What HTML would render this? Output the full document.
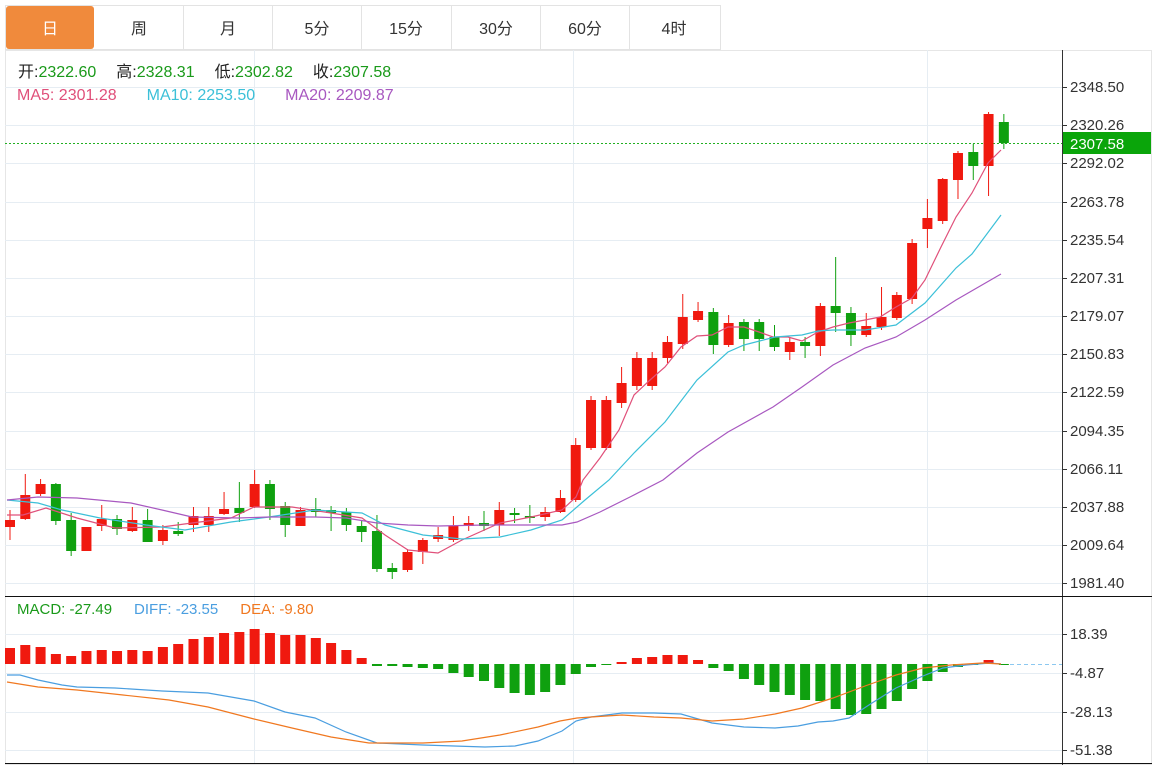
<!DOCTYPE html>
<html><head><meta charset="utf-8"><style>
body{margin:0;background:#fff;width:1173px;height:766px;overflow:hidden;font-family:"Liberation Sans","Noto Sans CJK SC",sans-serif;}
svg text{font-family:"Liberation Sans","Noto Sans CJK SC",sans-serif;}
</style></head><body>
<svg id="s" width="1173" height="766" xmlns="http://www.w3.org/2000/svg">
<rect x="0" y="0" width="1173" height="766" fill="#fff"/>
<rect x="5.5" y="5.5" width="715" height="44" fill="#fff" stroke="#e3e3e3"/>
<rect x="6" y="6" width="88" height="43" rx="3" fill="#f08a3c"/>
<g stroke="#e3e3e3"><line x1="183.5" y1="5" x2="183.5" y2="50"/><line x1="272.5" y1="5" x2="272.5" y2="50"/><line x1="361.5" y1="5" x2="361.5" y2="50"/><line x1="451.5" y1="5" x2="451.5" y2="50"/><line x1="540.5" y1="5" x2="540.5" y2="50"/><line x1="629.5" y1="5" x2="629.5" y2="50"/></g>
<g font-size="16" text-anchor="middle" fill="#333">
<text x="50" y="34" fill="#fff">日</text><text x="139" y="34">周</text><text x="228" y="34">月</text><text x="317" y="34">5分</text><text x="406" y="34">15分</text><text x="496" y="34">30分</text><text x="585" y="34">60分</text><text x="674" y="34">4时</text>
</g>
<rect x="5.5" y="50.5" width="1146" height="714" fill="none" stroke="#e6e6e6"/>
<g id="grid" stroke="#e6edf3" stroke-width="1"></g>
<line x1="1062.5" y1="50" x2="1062.5" y2="765" stroke="#333"/>
<line x1="5" y1="596.5" x2="1152" y2="596.5" stroke="#111"/>
<line x1="5" y1="763.5" x2="1152" y2="763.5" stroke="#111"/>
<g id="ax" font-size="15" fill="#333"></g>
<line x1="5" y1="143.5" x2="1062" y2="143.5" stroke="#22b022" stroke-dasharray="2,2"/>
<rect x="1063" y="132" width="88" height="22" fill="#0aa50a"/>
<text x="1070" y="149" font-size="15" fill="#fff">2307.58</text>
<line x1="1003" y1="664.5" x2="1062" y2="664.5" stroke="#8cc8f0" stroke-dasharray="4,3"/>
<g id="c"></g>
<g id="m"></g>
<g id="l" fill="none" stroke-width="1.2"></g>
<text x="18" y="77" font-size="16"><tspan fill="#222">开:</tspan><tspan fill="#1a9a1a">2322.60</tspan><tspan fill="#222" dx="20">高:</tspan><tspan fill="#1a9a1a">2328.31</tspan><tspan fill="#222" dx="20">低:</tspan><tspan fill="#1a9a1a">2302.82</tspan><tspan fill="#222" dx="20">收:</tspan><tspan fill="#1a9a1a">2307.58</tspan></text>
<text x="17" y="100" font-size="16"><tspan fill="#e0507a">MA5: 2301.28</tspan><tspan fill="#3cc0d8" dx="30">MA10: 2253.50</tspan><tspan fill="#a858c0" dx="30">MA20: 2209.87</tspan></text>
<text x="17" y="614" font-size="15"><tspan fill="#1a9a1a">MACD: -27.49</tspan><tspan fill="#4a9ee0" dx="22">DIFF: -23.55</tspan><tspan fill="#f07820" dx="22">DEA: -9.80</tspan></text>
</svg>
<script>
var NS="http://www.w3.org/2000/svg";
function el(p,t,a){var e=document.createElementNS(NS,t);for(var k in a)e.setAttribute(k,a[k]);document.getElementById(p).appendChild(e);return e;}
var py=[[87,"2348.50"],[125,"2320.26"],[163,"2292.02"],[202,"2263.78"],[240,"2235.54"],[278,"2207.31"],[316,"2179.07"],[354,"2150.83"],[392,"2122.59"],[431,"2094.35"],[469,"2066.11"],[507,"2037.88"],[545,"2009.64"],[583,"1981.40"],[634,"18.39"],[673,"-4.87"],[712,"-28.13"],[750,"-51.38"]];
py.forEach(function(p){el("grid","line",{x1:5,x2:1062,y1:p[0]+.5,y2:p[0]+.5});el("ax","line",{x1:1062,x2:1067,y1:p[0]+.5,y2:p[0]+.5,stroke:"#333"});var t=el("ax","text",{x:1070,y:p[0]+5});t.textContent=p[1];});
[254,573,927].forEach(function(x){el("grid","line",{x1:x+.5,x2:x+.5,y1:50,y2:763});});
var C=[[520,527,510,540,'r'],[495,519,474,520,'r'],[484,494,479,496,'r'],[484,521,483,525,'g'],[520,551,513,556,'g'],[527,551,527,551,'r'],[519,526,505,531,'r'],[519,529,515,535,'g'],[520,531,507,532,'r'],[520,542,509,542,'g'],[530,541,525,545,'r'],[531,534,522,536,'g'],[516,525,507,532,'r'],[516,525,507,532,'r'],[509,514,492,515,'r'],[508,513,482,522,'g'],[484,507,470,508,'r'],[484,509,480,520,'g'],[506,525,502,537,'g'],[510,526,507,526,'r'],[509,512,498,517,'g'],[510,513,506,531,'g'],[512,525,508,531,'g'],[526,532,520,542,'g'],[531,569,515,572,'g'],[568,572,563,579,'g'],[552,570,549,572,'r'],[540,552,538,564,'r'],[535,539,527,542,'r'],[526,540,516,542,'r'],[523,526,516,531,'r'],[523,526,511,531,'g'],[510,525,502,536,'r'],[513,515,508,523,'g'],[516,518,505,523,'g'],[512,517,507,521,'r'],[498,512,490,513,'r'],[445,500,438,502,'r'],[400,448,396,450,'r'],[400,448,396,450,'r'],[383,403,367,408,'r'],[358,386,352,390,'r'],[358,386,352,390,'r'],[342,358,336,363,'r'],[317,344,294,349,'r'],[311,320,302,322,'r'],[312,345,308,354,'g'],[323,345,315,347,'r'],[322,339,319,351,'g'],[322,339,319,351,'g'],[337,347,325,351,'g'],[342,352,338,360,'r'],[342,346,337,358,'g'],[306,346,303,356,'r'],[306,313,257,332,'g'],[313,335,307,346,'g'],[326,335,313,337,'r'],[317,327,287,330,'r'],[295,318,292,320,'r'],[243,299,239,304,'r'],[218,229,199,248,'r'],[179,221,178,224,'r'],[153,180,151,199,'r'],[152,166,144,180,'g'],[114,166,112,196,'r'],[122,143,114,149,'g']];
function X(i){return 10+i*15.29;}
C.forEach(function(c,i){var col=c[4]=='r'?'#f0190f':'#0fa00f';var x=X(i);el("c","line",{x1:x,x2:x,y1:c[2],y2:c[3],stroke:col});el("c","rect",{x:x-5,y:c[0],width:10,height:Math.max(1,c[1]-c[0]),fill:col});});
var M=[648,645,647,654,656,651,650,651,650,651,647,644,639,637,633,632,629,633,635,635,638,643,650,658,-666,-666,-667,-668,-669,-673,-677,-681,-688,-693,-695,-692,-685,-674,-667,-665,662,658,657,655,655,660,-668,-671,-679,-685,-692,-695,-700,-701,-709,-715,-714,-709,-701,-689,-681,-672,-667,-665,660,-665];
M.forEach(function(v,i){var x=X(i);if(v>0){el("m","rect",{x:x-5,y:v,width:10,height:664-v,fill:'#f0190f'});}else{v=-v;el("m","rect",{x:x-5,y:664,width:10,height:Math.max(1,v-664),fill:'#0fa00f'});}});
function pl(pts,col){el("l","polyline",{points:pts,stroke:col});}
pl("7,515 23,515 46,508 77,518 115,528 162,527 192,523 231,518 254,507 292,507 331,513 362,518 385,535 408,550 438,553 462,540 500,523 531,517 562,510 576,497 583,480 600,458 619,430 634,395 650,380 665,367 681,347 697,336 712,335 728,327 744,327 759,332 773,337 788,337 802,341 818,332 833,327 849,323 865,320 880,317 896,307 912,298 925,280 941,247 956,217 972,193 988,163 1001,150","#e0507a");
pl("7,500 38,503 62,510 100,518 146,525 185,530 231,522 269,517 315,510 346,512 362,513 385,525 423,535 462,539 500,537 531,530 562,520 585,500 609,480 634,453 665,422 697,380 728,352 744,345 775,337 802,335 818,331 833,330 865,330 896,325 925,303 956,268 972,254 1001,215","#3cc0d8");
pl("7,500 38,497 77,498 131,503 162,510 192,517 238,518 269,517 315,517 346,518 377,523 408,525 438,526 485,525 531,525 562,525 577,522 600,512 630,497 663,480 697,453 728,432 773,407 802,387 833,365 865,348 896,337 925,320 956,300 1001,274","#a858c0");
pl("7,675 20,675 38,680 62,685 77,687 115,688 162,691 208,693 254,701 285,712 315,718 346,732 377,743 423,745 485,747 515,746 538,741 562,731 576,721 591,717 622,713 654,713 681,714 712,723 744,727 775,728 798,726 818,722 833,721 849,718 872,703 896,688 923,676 943,668 966,665 990,663 1001,664","#4a9ee0");
pl("7,682 38,687 77,690 123,695 169,700 208,707 254,719 292,728 331,737 369,743 423,743 462,741 500,735 538,727 560,721 577,718 591,717 622,715 654,717 681,718 712,721 744,719 775,714 802,708 833,698 865,686 896,675 923,668 951,665 982,663 1001,664","#f07820");
</script>
</body></html>
